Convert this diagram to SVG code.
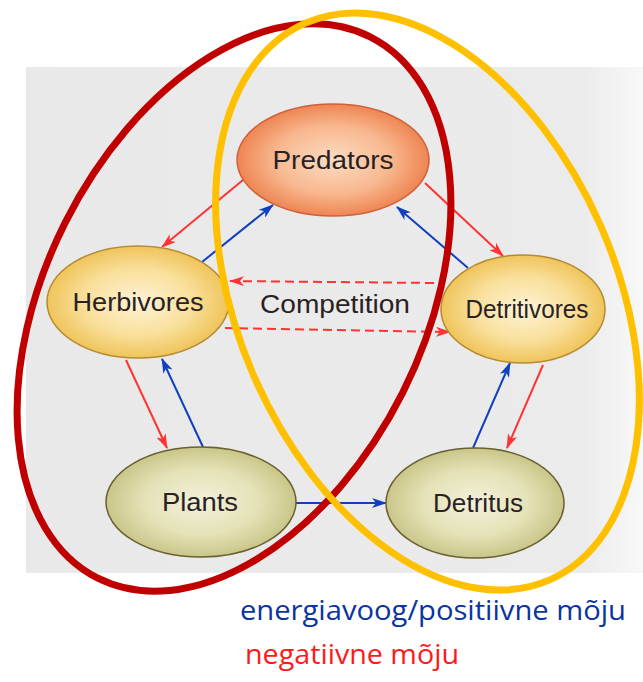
<svg xmlns="http://www.w3.org/2000/svg" width="643" height="682" viewBox="0 0 643 682">
  <defs>
    <linearGradient id="bg" x1="0" y1="0" x2="1" y2="0">
      <stop offset="0" stop-color="#e9e9e9"/>
      <stop offset="0.9" stop-color="#ebebeb"/>
      <stop offset="1" stop-color="#f8f8f8"/>
    </linearGradient>
    <radialGradient id="gPred" cx="0.5" cy="0.5" r="0.5">
      <stop offset="0" stop-color="#fbdcc4"/>
      <stop offset="0.6" stop-color="#f8b88f"/>
      <stop offset="1" stop-color="#ee8553"/>
    </radialGradient>
    <radialGradient id="gYel" cx="0.5" cy="0.5" r="0.5">
      <stop offset="0" stop-color="#fdf3d6"/>
      <stop offset="0.6" stop-color="#f9df9a"/>
      <stop offset="1" stop-color="#efc45a"/>
    </radialGradient>
    <radialGradient id="gOl" cx="0.5" cy="0.5" r="0.5">
      <stop offset="0" stop-color="#f3f1dc"/>
      <stop offset="0.6" stop-color="#e4e2b6"/>
      <stop offset="1" stop-color="#c9c68a"/>
    </radialGradient>
    <marker id="ar" viewBox="0 0 15 10" refX="14" refY="5" markerWidth="15" markerHeight="10" markerUnits="userSpaceOnUse" orient="auto">
      <path d="M0,0 L15,5 L0,10 L4,5 z" fill="#ff3333"/>
    </marker>
    <marker id="ab" viewBox="0 0 15 10" refX="14" refY="5" markerWidth="15" markerHeight="10" markerUnits="userSpaceOnUse" orient="auto">
      <path d="M0,0 L15,5 L0,10 L4,5 z" fill="#1040c0"/>
    </marker>
  </defs>
  <style>
    .node text { font-family: "Liberation Sans", Arial, sans-serif; font-size: 25px; fill: #2a2222; text-anchor: middle; }
    .neg { stroke: #ff3333; stroke-width: 2; fill: none; marker-end: url(#ar); }
    .pos { stroke: #1040c0; stroke-width: 2; fill: none; marker-end: url(#ab); }
    .dash { stroke-dasharray: 9 5; }
    .lbl { font-family: "Liberation Sans", Arial, sans-serif; font-size: 25px; fill: #2a2222; text-anchor: middle; }
    .legend { font-family: "Open Sans", "Noto Sans", sans-serif; font-size: 28px; }
  </style>

  <rect x="26" y="67" width="617" height="506" fill="url(#bg)"/>

  <g id="connectors">
    <line class="neg" x1="243" y1="180" x2="162" y2="247"/>
    <line class="pos" x1="202" y1="262" x2="273" y2="205"/>
    <line class="neg" x1="425" y1="183" x2="503" y2="256"/>
    <line class="pos" x1="468" y1="268" x2="397" y2="207"/>
    <line class="neg dash" x1="434" y1="283" x2="230" y2="281"/>
    <line class="neg dash" x1="225" y1="328" x2="450" y2="332"/>
    <line class="neg" x1="126" y1="360" x2="167" y2="448"/>
    <line class="pos" x1="203" y1="447" x2="162" y2="359"/>
    <line class="pos" x1="296" y1="503" x2="386" y2="503"/>
    <line class="pos" x1="473" y1="448" x2="510" y2="363"/>
    <line class="neg" x1="543" y1="365" x2="507" y2="448"/>
  </g>

  <text class="lbl" x="335" y="313" textLength="150" lengthAdjust="spacingAndGlyphs">Competition</text>

  <g id="predators" class="node">
    <ellipse cx="333" cy="160" rx="96" ry="56" fill="url(#gPred)" stroke="#d0603a" stroke-width="1.5"/>
    <text x="333" y="169" textLength="121" lengthAdjust="spacingAndGlyphs">Predators</text>
  </g>
  <g id="herbivores" class="node">
    <ellipse cx="138" cy="302" rx="91" ry="56" fill="url(#gYel)" stroke="#b58a32" stroke-width="1.5"/>
    <text x="138" y="311" textLength="131" lengthAdjust="spacingAndGlyphs">Herbivores</text>
  </g>
  <g id="detritivores" class="node">
    <ellipse cx="523" cy="309" rx="82" ry="54" fill="url(#gYel)" stroke="#b58a32" stroke-width="1.5"/>
    <text x="527" y="318" textLength="123" lengthAdjust="spacingAndGlyphs">Detritivores</text>
  </g>
  <g id="plants" class="node">
    <ellipse cx="201" cy="502" rx="95" ry="55" fill="url(#gOl)" stroke="#6a6030" stroke-width="1.5"/>
    <text x="200" y="511" textLength="76" lengthAdjust="spacingAndGlyphs">Plants</text>
  </g>
  <g id="detritus" class="node">
    <ellipse cx="475" cy="503" rx="89" ry="55" fill="url(#gOl)" stroke="#6a6030" stroke-width="1.5"/>
    <text x="478" y="512" textLength="90" lengthAdjust="spacingAndGlyphs">Detritus</text>
  </g>

  <g id="groups" fill="none" stroke-width="7">
    <ellipse id="red-group" cx="234" cy="307.5" rx="189" ry="303" transform="rotate(26.7 234 307.5)" stroke="#c00000"/>
    <ellipse id="yellow-group" cx="427.5" cy="301.5" rx="189" ry="304" transform="rotate(-23.7 427.5 301.5)" stroke="#ffc000"/>
  </g>

  <g id="legend">
    <text class="legend" x="240" y="620" fill="#0a34a0" textLength="386" lengthAdjust="spacingAndGlyphs">energiavoog/positiivne mõju</text>
    <text class="legend" x="245" y="664" fill="#ff1a1a" textLength="214" lengthAdjust="spacingAndGlyphs">negatiivne mõju</text>
  </g>
</svg>
